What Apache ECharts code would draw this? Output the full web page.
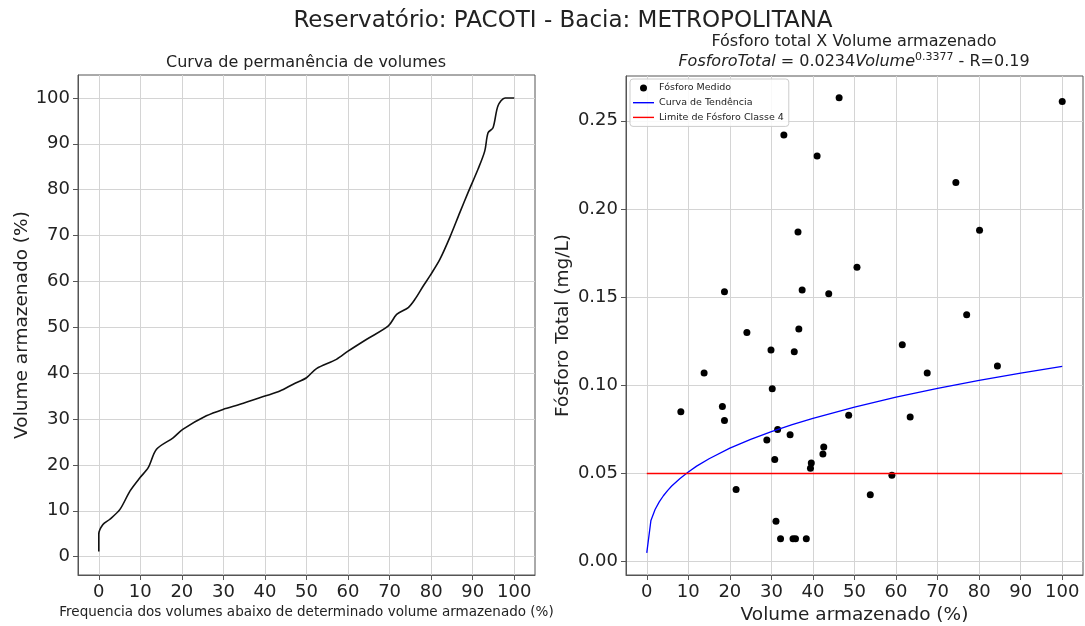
<!DOCTYPE html>
<html>
<head>
<meta charset="utf-8">
<script src="https://cdn.jsdelivr.net/npm/echarts@6/dist/echarts.min.js"></script>
<style>
  html, body { margin: 0; padding: 0; background: #fff; }
  #chart { width: 1085px; height: 626px; }
</style>
</head>
<body>
<div id="chart"></div>
<script>
// curva de permanencia (frequencia x volume)
const durX = [0, 0, 1.0, 2.6, 5.1, 7.5, 9.9, 11.9, 13.9, 17.9, 20.3, 25.9, 29.9, 34.0, 40.0, 43.6, 46.8, 50.0, 52.4, 57.2, 60.0, 64.5, 69.7, 71.7, 74.5, 76.1, 78.1, 79.7, 82.1, 84.5, 86.9, 88.9, 91.3, 92.9, 93.7, 94.9, 96.1, 97.8, 100];
const durY = [1.1, 4.9, 7.0, 8.1, 10.3, 14.3, 17.2, 19.4, 23.4, 25.9, 27.8, 30.7, 32.1, 33.2, 35.0, 36.1, 37.6, 39.0, 41.0, 43.0, 44.8, 47.4, 50.3, 52.8, 54.3, 56.1, 59.0, 61.2, 64.8, 69.6, 75.0, 79.4, 84.5, 88.4, 92.4, 93.5, 98.3, 100, 100];

// fosforo medido
const fosX = [18.7, 37.4, 43.8, 24.1, 36.6, 29.9, 35.5, 13.8, 30.2, 8.2, 18.2, 18.7, 31.5, 34.5, 28.9, 30.8, 42.6, 42.4, 39.6, 39.4, 21.5, 31.1, 32.2, 35.2, 35.8, 38.4, 48.6, 53.8, 59.0, 61.5, 63.4, 67.5, 77.0, 84.4, 33.0, 41.0, 46.3, 100.0, 74.4, 36.4, 80.1, 50.6];
const fosY = [0.153, 0.154, 0.152, 0.130, 0.132, 0.120, 0.119, 0.107, 0.098, 0.085, 0.088, 0.080, 0.075, 0.072, 0.069, 0.058, 0.065, 0.061, 0.056, 0.053, 0.041, 0.023, 0.013, 0.013, 0.013, 0.013, 0.083, 0.038, 0.049, 0.123, 0.082, 0.107, 0.140, 0.111, 0.242, 0.230, 0.263, 0.261, 0.215, 0.187, 0.188, 0.167];

// curva de tendencia
const trendX = [0, 1, 2, 3, 4, 5, 6, 8, 10, 12, 15, 20, 25, 30, 35, 40, 50, 60, 70, 80, 90, 100];
const trendY = [0.005, 0.0234, 0.0296, 0.0339, 0.0374, 0.0403, 0.0429, 0.0472, 0.0509, 0.0542, 0.0584, 0.0644, 0.0694, 0.0738, 0.0777, 0.0813, 0.0877, 0.0933, 0.0983, 0.1028, 0.1069, 0.1108];

// limite classe 4
const limitX = [0, 100];
const limitY = [0.05, 0.05];

// ticks
const xTicks = [0, 10, 20, 30, 40, 50, 60, 70, 80, 90, 100];
const volTicks = [0, 10, 20, 30, 40, 50, 60, 70, 80, 90, 100];
const fosTicks = [0, 0.05, 0.10, 0.15, 0.20, 0.25];

const font = 'DejaVu Sans';
const spineColor = '#555';
const gridColor = '#d4d4d4';

const pairs = (xs, ys) => xs.map((x, i) => [x, ys[i]]);

const axisCommon = (ticks) => ({
  axisLine: { show: true, onZero: false, lineStyle: { color: spineColor, width: 1 } },
  axisTick: { show: true, length: 5, lineStyle: { color: spineColor }, customValues: ticks },
  axisLabel: { customValues: ticks, color: '#222', fontSize: 18, fontFamily: font, margin: 8 },
  splitLine: { show: true, lineStyle: { color: gridColor, width: 1 } },
  nameLocation: 'middle',
  nameTextStyle: { color: '#222', fontFamily: font, fontSize: 18.5 }
});

const chart = echarts.init(document.getElementById('chart'));

chart.setOption({
  animation: false,
  backgroundColor: '#fff',
  textStyle: { fontFamily: font },
  title: [
    {
      text: 'Reservatório: PACOTI - Bacia: METROPOLITANA',
      left: 563, top: 8, padding: 0, textAlign: 'center',
      textStyle: { fontFamily: font, fontSize: 23, fontWeight: 'normal', color: '#222', lineHeight: 26 }
    },
    {
      text: 'Curva de permanência de volumes',
      left: 306, top: 54, padding: 0, textAlign: 'center',
      textStyle: { fontFamily: font, fontSize: 16, fontWeight: 'normal', color: '#222', lineHeight: 18 }
    },
    {
      text: 'Fósforo total X Volume armazenado\n{i|FosforoTotal} = 0.0234{i|Volume}{s|0.3377} - R=0.19',
      left: 854, top: 32, padding: 0, textAlign: 'center',
      textStyle: {
        fontFamily: font, fontSize: 16, fontWeight: 'normal', color: '#222', lineHeight: 20,
        rich: {
          i: { fontFamily: font, fontSize: 16, fontStyle: 'italic', color: '#222', lineHeight: 20 },
          s: { fontFamily: font, fontSize: 11, color: '#222', lineHeight: 10, verticalAlign: 'top' }
        }
      }
    }
  ],
  legend: {
    orient: 'vertical',
    left: 630, top: 79,
    padding: [3, 5, 3, 3],
    itemWidth: 21, itemHeight: 7, itemGap: 2.7,
    borderColor: '#cccccc', borderWidth: 1, borderRadius: 3,
    backgroundColor: 'rgba(255,255,255,0.85)',
    textStyle: { fontFamily: font, fontSize: 9.5, color: '#222', lineHeight: 12 },
    data: [
      { name: 'Fósforo Medido', icon: 'circle' },
      { name: 'Curva de Tendência', icon: 'path://M0,0 L21,0 L21,1.4 L0,1.4 Z' },
      { name: 'Limite de Fósforo Classe 4', icon: 'path://M0,0 L21,0 L21,1.4 L0,1.4 Z' }
    ]
  },
  grid: [
    { left: 78, top: 75, width: 457, height: 500, show: true, borderColor: spineColor, borderWidth: 1, outerBoundsMode: 'none' },
    { left: 626, top: 76, width: 457, height: 499, show: true, borderColor: spineColor, borderWidth: 1, outerBoundsMode: 'none' }
  ],
  xAxis: [
    Object.assign(axisCommon(xTicks), {
      type: 'value', gridIndex: 0, min: -5, max: 105,
      name: 'Frequencia dos volumes abaixo de determinado volume armazenado (%)',
      nameGap: 24,
      nameTextStyle: { color: '#222', fontFamily: font, fontSize: 13.5 }
    }),
    Object.assign(axisCommon(xTicks), {
      type: 'value', gridIndex: 1, min: -5, max: 105,
      name: 'Volume armazenado (%)', nameGap: 20
    })
  ],
  yAxis: [
    Object.assign(axisCommon(volTicks), {
      type: 'value', gridIndex: 0, min: -4, max: 105,
      name: 'Volume armazenado (%)', nameGap: 46
    }),
    (() => {
      const ax = Object.assign(axisCommon(fosTicks), {
        type: 'value', gridIndex: 1, min: -0.00754, max: 0.2754,
        name: 'Fósforo Total (mg/L)', nameGap: 53
      });
      ax.axisLabel.formatter = (v) => v.toFixed(2);
      return ax;
    })()
  ],
  series: [
    {
      name: 'Permanência',
      type: 'line', xAxisIndex: 0, yAxisIndex: 0,
      data: pairs(durX, durY),
      symbol: 'none', smooth: 0.3,
      lineStyle: { color: '#111', width: 1.6 }
    },
    {
      name: 'Fósforo Medido',
      type: 'scatter', xAxisIndex: 1, yAxisIndex: 1,
      data: pairs(fosX, fosY),
      symbol: 'circle', symbolSize: 7,
      itemStyle: { color: '#000', opacity: 1 }
    },
    {
      name: 'Curva de Tendência',
      type: 'line', xAxisIndex: 1, yAxisIndex: 1,
      data: pairs(trendX, trendY),
      symbol: 'none', smooth: false,
      itemStyle: { color: '#0000ff' },
      lineStyle: { color: '#0000ff', width: 1.3 }
    },
    {
      name: 'Limite de Fósforo Classe 4',
      type: 'line', xAxisIndex: 1, yAxisIndex: 1,
      data: pairs(limitX, limitY),
      symbol: 'none',
      itemStyle: { color: '#ff0000' },
      lineStyle: { color: '#ff0000', width: 1.3 }
    }
  ]
});
</script>
</body>
</html>
